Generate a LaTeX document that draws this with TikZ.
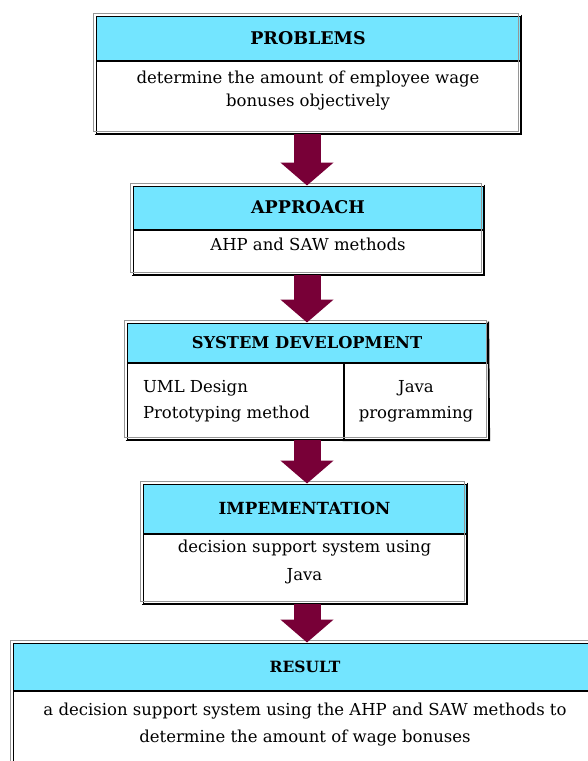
\documentclass[tikz,border=0pt]{standalone}
\usepackage{fontspec}
\setmainfont{DejaVu Serif}
\usepackage{tikz}
\usetikzlibrary{arrows.meta,positioning,calc}
\definecolor{sky}{RGB}{115,229,255}
\definecolor{plum}{RGB}{120,0,55}
\definecolor{rimgray}{RGB}{150,150,150}
\tikzset{
  head/.style={draw=black,fill=sky,line width=1pt,minimum height=#1,
    inner sep=0pt,font=\fontsize{17.5}{20}\selectfont\bfseries},
  head/.default=44pt,
  body/.style={draw=black,fill=white,line width=1pt,minimum height=#1,
    inner sep=0pt,align=center,text depth=16pt,
    font=\fontsize{16.5}{23}\selectfont},
  body/.default=44pt,
  rim/.style={draw=rimgray,line width=1.1pt},
  shade/.style={draw=black,line width=1.6pt},
  down/.style={draw=plum,line width=27pt,-{Triangle[length=23pt,width=52pt]}},
}
% grey rim up-left, black edge down-right
\newcommand{\boxrim}[2]{%
  \draw[rim] ($(#1.north west)+(-2,-2)$) rectangle ($(#2.south east)+(-2,-2)$);
  \draw[shade] ($(#1.north east)+(0.8,-1)$) -- ($(#2.south east)+(0.8,0.8)$) -- ($(#2.south west)+(-1,0.8)$);
}

\begin{document}
\begin{tikzpicture}[x=1pt,y=-1pt]
        \clip (0,0) rectangle (588,761);
        \fill[white] (0,0) rectangle (588,761);
        % problems
        \node[head,minimum width=424pt] (hd1) at (308,38) {PROBLEMS};
        \node[body=72pt,minimum width=424pt,below=0pt of hd1] (bd1)
          {determine the amount of employee wage\\bonuses objectively};
        \boxrim{hd1}{bd1}
        % approach
        \node[head=43pt,minimum width=350pt] (hd2) at (308,207.5) {APPROACH};
        \node[body=44pt,minimum width=350pt,below=0pt of hd2] (bd2) {AHP and SAW methods};
        \boxrim{hd2}{bd2}
        % system development
        \node[head=39pt,minimum width=360pt,font=\fontsize{16.3}{20}\selectfont\bfseries] (hd3) at (307,342.5) {SYSTEM DEVELOPMENT};
        \node[body=76pt,minimum width=216pt,text depth=4pt,align=left,
          font=\fontsize{16.5}{26}\selectfont,anchor=north west] (bd3l) at (hd3.south west)
          {\makebox[184pt][l]{UML Design}\\Prototyping method};
        \node[body=76pt,minimum width=144pt,text depth=4pt,
          font=\fontsize{16.5}{26}\selectfont,right=0pt of bd3l] (bd3r) {Java\\programming};
        \boxrim{hd3}{bd3r}
        \draw[shade] ($(bd3l.south west)+(-1,0.8)$) -- ($(bd3r.south west)+(0,0.8)$);
        % implementation
        \node[head=49pt,minimum width=323pt,font=\fontsize{16.7}{20}\selectfont\bfseries] (hd4) at (304.5,508.5) {IMPEMENTATION};
        \node[body=69pt,minimum width=323pt,font=\fontsize{16.5}{28}\selectfont,below=0pt of hd4] (bd4)
          {decision support system using\\Java};
        \boxrim{hd4}{bd4}
        % result
        \node[head=47pt,minimum width=584pt,font=\fontsize{15.5}{20}\selectfont\bfseries] (hd5) at (305,666.5) {RESULT};
        \node[body=79pt,minimum width=584pt,font=\fontsize{16.5}{27}\selectfont,below=0pt of hd5] (bd5)
          {a decision support system using the AHP and SAW methods to\\determine the amount of wage bonuses};
        \boxrim{hd5}{bd5}
        % arrows
        \draw[down] (307,0 |- bd1.south) -- (307,0 |- hd2.north);
        \draw[down] (307,0 |- bd2.south) -- (307,0 |- hd3.north);
        \draw[down] (307,0 |- bd3l.south) -- (307,0 |- hd4.north);
        \draw[down] (307,0 |- bd4.south) -- (307,0 |- hd5.north);
      \end{tikzpicture}
\end{document}
